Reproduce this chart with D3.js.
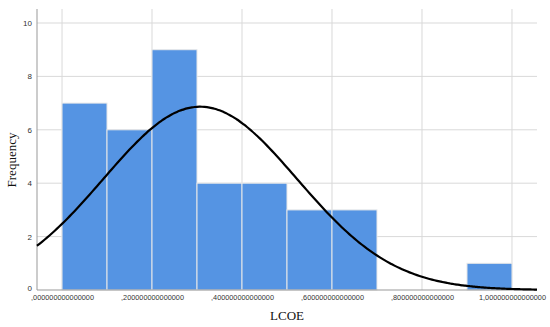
<!DOCTYPE html>
<html>
<head>
<meta charset="utf-8">
<script src="https://cdn.jsdelivr.net/npm/d3@7"></script>
<style>
  body { margin: 0; background: #fff; }
  .tick text { font-family: Arial, "Liberation Sans", sans-serif; font-size: 8px; fill: #333; }
  .xaxis .tick text { font-size: 7.3px; }
</style>
</head>
<body>
<div id="chart"></div>
<script>
// histogram bins (LCOE), width 0.1
var binStarts = [0, 0.1, 0.2, 0.3, 0.4, 0.5, 0.6, 0.7, 0.8, 0.9];
var counts = [7, 6, 9, 4, 4, 3, 3, 0, 0, 1];
var xTicks = [0, 0.2, 0.4, 0.6, 0.8, 1.0];
var xTickLabels = [",000000000000000", ",200000000000000", ",400000000000000", ",600000000000000", ",800000000000000", "1,000000000000000"];
var yTicks = [0, 2, 4, 6, 8, 10];
// normal curve fitted to the data
var mean = 0.307, sd = 0.215, binWidth = 0.1;

var width = 550, height = 327;
var margin = {left: 37, right: 13, top: 9, bottom: 37};

var svg = d3.select("#chart").append("svg").attr("width", width).attr("height", height);

var x = d3.scaleLinear().domain([-0.0556, 1.0556]).range([margin.left, width - margin.right]);
var y = d3.scaleLinear().domain([0, 10]).range([290, 23]);
var yTop = y.invert(margin.top);

var g = svg.append("g");

// gridlines
g.selectAll("line.hgrid")
  .data(yTicks.filter(function(d) { return d > 0; }))
  .enter().append("line")
    .attr("x1", x.range()[0]).attr("x2", x.range()[1])
    .attr("y1", function(d) { return y(d); }).attr("y2", function(d) { return y(d); })
    .attr("stroke", "#d9d9d9").attr("stroke-width", 1);

g.selectAll("line.vgrid")
  .data(xTicks)
  .enter().append("line")
    .attr("x1", function(d) { return x(d); }).attr("x2", function(d) { return x(d); })
    .attr("y1", y(0)).attr("y2", y(yTop))
    .attr("stroke", "#d9d9d9").attr("stroke-width", 1);

// bars
g.selectAll("rect")
  .data(binStarts.map(function(b, i) { return {x0: b, n: counts[i]}; }).filter(function(d) { return d.n > 0; }))
  .enter().append("rect")
    .attr("x", function(d) { return x(d.x0); })
    .attr("width", function(d) { return x(d.x0 + binWidth) - x(d.x0); })
    .attr("y", function(d) { return y(d.n); })
    .attr("height", function(d) { return y(0) - y(d.n); })
    .attr("fill", "#5594e3")
    .attr("stroke", "#e8e8e8")
    .attr("stroke-width", 1);

// axes lines
g.append("line").attr("x1", x.range()[0]).attr("x2", x.range()[1])
  .attr("y1", y(0)).attr("y2", y(0)).attr("stroke", "#999").attr("stroke-width", 1);
g.append("line").attr("x1", x.range()[0]).attr("x2", x.range()[0])
  .attr("y1", y(0)).attr("y2", y(yTop)).attr("stroke", "#999").attr("stroke-width", 1);

// normal curve
var nPts = d3.range(0, 201).map(function(i) { return x.domain()[0] + (x.domain()[1] - x.domain()[0]) * i / 200; });
var total = d3.sum(counts);
var line = d3.line()
  .x(function(d) { return x(d); })
  .y(function(d) {
    var z = (d - mean) / sd;
    return y(total * binWidth / (sd * Math.sqrt(2 * Math.PI)) * Math.exp(-0.5 * z * z));
  })
  .curve(d3.curveBasis);
g.append("path").datum(nPts)
  .attr("d", line)
  .attr("fill", "none").attr("stroke", "#000").attr("stroke-width", 2.2);

// x axis
var xAxis = d3.axisBottom(x).tickValues(xTicks).tickSize(0).tickPadding(5)
  .tickFormat(function(d, i) { return xTickLabels[i]; });
svg.append("g").attr("class", "xaxis").attr("transform", "translate(0," + y(0) + ")").call(xAxis)
  .call(function(s) { s.select(".domain").remove(); });

// y axis
var yAxis = d3.axisLeft(y).tickValues(yTicks).tickSize(0).tickPadding(5);
svg.append("g").attr("transform", "translate(" + x.range()[0] + ",0)").call(yAxis)
  .call(function(s) {
    s.select(".domain").remove();
    s.selectAll(".tick text").filter(function(d) { return d === 0; }).attr("dy", "0.1em");
  });

// titles
svg.append("text").attr("x", 287).attr("y", 320).attr("text-anchor", "middle")
  .attr("font-family", "'Liberation Serif', 'DejaVu Serif', serif").attr("font-size", 13).attr("fill", "#111")
  .text("LCOE");
svg.append("text").attr("transform", "translate(16,160) rotate(-90)").attr("text-anchor", "middle")
  .attr("font-family", "'Liberation Serif', 'DejaVu Serif', serif").attr("font-size", 13).attr("fill", "#111")
  .text("Frequency");
</script>
</body>
</html>
